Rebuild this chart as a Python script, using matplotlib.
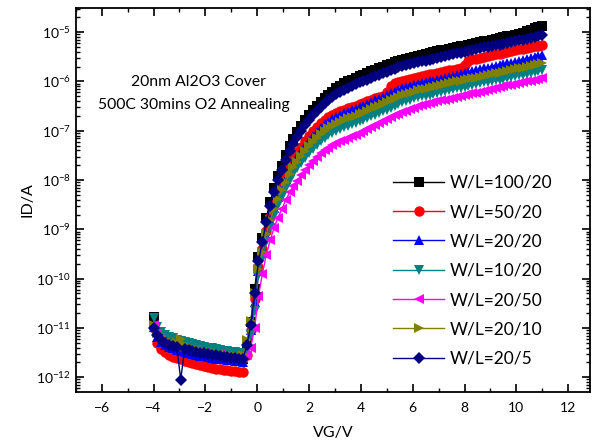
import numpy as np
import matplotlib
matplotlib.use("Agg")
import matplotlib.pyplot as plt
from matplotlib.ticker import LogLocator, MultipleLocator, NullFormatter

plt.rcParams['font.family'] = ['Lato', 'DejaVu Sans']
plt.rcParams['mathtext.fontset'] = 'custom'
plt.rcParams['mathtext.rm'] = 'Lato'

# gate sweep -4 V .. 11 V, 0.15 V steps
vg = np.round(np.linspace(-4.0, 11.0, 101), 2)

# log10(ID/A) for each device, one value per gate step
log_id_100_20 = [
    -10.78, -11.08, -11.20, -11.27, -11.31, -11.35, -11.38, -11.40, -11.42, -11.44,
    -11.46, -11.48, -11.50, -11.52, -11.53, -11.55, -11.56, -11.57, -11.58, -11.59,
    -11.60, -11.61, -11.62, -11.63, -11.30, -10.88, -10.22, -9.57, -9.17, -8.77,
    -8.44, -8.16, -7.92, -7.72, -7.49, -7.31, -7.16, -7.03, -6.91, -6.79,
    -6.68, -6.58, -6.49, -6.41, -6.33, -6.27, -6.21, -6.14, -6.09, -6.04,
    -6.00, -5.96, -5.93, -5.89, -5.86, -5.83, -5.79, -5.76, -5.73, -5.70,
    -5.67, -5.64, -5.61, -5.58, -5.56, -5.54, -5.52, -5.50, -5.48, -5.46,
    -5.45, -5.43, -5.41, -5.39, -5.37, -5.36, -5.34, -5.32, -5.30, -5.29,
    -5.27, -5.25, -5.23, -5.22, -5.20, -5.18, -5.17, -5.15, -5.13, -5.12,
    -5.10, -5.08, -5.07, -5.05, -5.03, -5.01, -4.98, -4.95, -4.92, -4.90,
    -4.87]
log_id_50_20 = [
    -11.00, -11.30, -11.42, -11.49, -11.54, -11.58, -11.61, -11.64, -11.67, -11.69,
    -11.71, -11.73, -11.75, -11.77, -11.79, -11.81, -11.83, -11.84, -11.85, -11.86,
    -11.87, -11.88, -11.89, -11.90, -11.55, -11.05, -10.42, -9.77, -9.40, -9.03,
    -8.74, -8.48, -8.26, -8.07, -7.87, -7.70, -7.56, -7.44, -7.32, -7.21,
    -7.10, -7.00, -6.92, -6.85, -6.78, -6.73, -6.68, -6.64, -6.60, -6.57,
    -6.54, -6.51, -6.49, -6.45, -6.43, -6.40, -6.37, -6.34, -6.32, -6.29,
    -6.22, -6.09, -6.04, -6.01, -5.98, -5.96, -5.94, -5.92, -5.90, -5.88,
    -5.87, -5.85, -5.84, -5.82, -5.80, -5.79, -5.77, -5.76, -5.74, -5.73,
    -5.66, -5.58, -5.55, -5.54, -5.52, -5.50, -5.49, -5.47, -5.45, -5.44,
    -5.42, -5.40, -5.39, -5.37, -5.35, -5.34, -5.32, -5.30, -5.28, -5.27,
    -5.25]
log_id_20_20 = [
    -10.98, -11.18, -11.28, -11.34, -11.38, -11.41, -11.44, -11.46, -11.48, -11.50,
    -11.52, -11.54, -11.56, -11.57, -11.59, -11.60, -11.62, -11.63, -11.64, -11.65,
    -11.66, -11.67, -11.68, -11.69, -11.45, -11.05, -10.48, -9.85, -9.48, -9.11,
    -8.82, -8.56, -8.34, -8.16, -7.97, -7.80, -7.66, -7.54, -7.42, -7.31,
    -7.20, -7.10, -7.02, -6.94, -6.87, -6.82, -6.76, -6.72, -6.68, -6.64,
    -6.61, -6.58, -6.55, -6.52, -6.49, -6.46, -6.42, -6.38, -6.35, -6.31,
    -6.28, -6.24, -6.21, -6.17, -6.14, -6.12, -6.10, -6.07, -6.05, -6.03,
    -6.02, -6.00, -5.98, -5.96, -5.94, -5.93, -5.91, -5.89, -5.87, -5.85,
    -5.83, -5.81, -5.79, -5.77, -5.75, -5.73, -5.72, -5.70, -5.68, -5.67,
    -5.65, -5.63, -5.62, -5.60, -5.58, -5.57, -5.55, -5.53, -5.51, -5.49,
    -5.47]
log_id_10_20 = [
    -10.80, -10.98, -11.08, -11.14, -11.18, -11.21, -11.24, -11.26, -11.28, -11.30,
    -11.32, -11.34, -11.36, -11.38, -11.40, -11.41, -11.43, -11.44, -11.46, -11.47,
    -11.48, -11.49, -11.50, -11.51, -11.45, -11.15, -10.65, -9.95, -9.60, -9.25,
    -8.97, -8.72, -8.51, -8.34, -8.16, -8.00, -7.87, -7.76, -7.65, -7.55,
    -7.45, -7.36, -7.28, -7.21, -7.14, -7.09, -7.04, -7.00, -6.96, -6.93,
    -6.90, -6.87, -6.84, -6.81, -6.78, -6.75, -6.71, -6.67, -6.64, -6.60,
    -6.57, -6.53, -6.49, -6.45, -6.42, -6.39, -6.37, -6.34, -6.32, -6.30,
    -6.29, -6.27, -6.25, -6.23, -6.21, -6.20, -6.18, -6.16, -6.14, -6.13,
    -6.11, -6.09, -6.07, -6.06, -6.04, -6.02, -6.01, -5.99, -5.97, -5.96,
    -5.94, -5.92, -5.91, -5.89, -5.87, -5.86, -5.84, -5.82, -5.80, -5.79,
    -5.77]
log_id_20_50 = [
    -10.95, -11.12, -11.22, -11.28, -11.32, -11.35, -11.38, -11.40, -11.42, -11.44,
    -11.46, -11.48, -11.49, -11.51, -11.52, -11.53, -11.54, -11.55, -11.56, -11.57,
    -11.58, -11.59, -11.60, -11.60, -11.55, -11.40, -11.00, -10.35, -9.90, -9.52,
    -9.22, -8.97, -8.76, -8.59, -8.41, -8.25, -8.12, -8.01, -7.90, -7.80,
    -7.70, -7.61, -7.53, -7.46, -7.39, -7.34, -7.29, -7.25, -7.21, -7.18,
    -7.14, -7.11, -7.08, -7.04, -7.01, -6.97, -6.93, -6.89, -6.85, -6.81,
    -6.77, -6.73, -6.69, -6.65, -6.62, -6.59, -6.56, -6.53, -6.50, -6.47,
    -6.46, -6.44, -6.42, -6.40, -6.38, -6.37, -6.35, -6.33, -6.31, -6.30,
    -6.28, -6.26, -6.24, -6.23, -6.21, -6.19, -6.17, -6.15, -6.13, -6.12,
    -6.10, -6.08, -6.07, -6.05, -6.03, -6.02, -6.00, -5.98, -5.96, -5.95,
    -5.93]
log_id_20_10 = [
    -10.95, -11.10, -11.18, -11.24, -11.28, -11.31, -11.30, -11.22, -11.36, -11.38,
    -11.40, -11.42, -11.44, -11.46, -11.48, -11.50, -11.51, -11.53, -11.54, -11.55,
    -11.56, -11.57, -11.58, -11.55, -11.25, -10.85, -10.30, -9.80, -9.45, -9.10,
    -8.82, -8.58, -8.38, -8.21, -8.03, -7.87, -7.74, -7.63, -7.52, -7.41,
    -7.31, -7.22, -7.14, -7.07, -7.00, -6.95, -6.90, -6.86, -6.82, -6.79,
    -6.75, -6.72, -6.70, -6.66, -6.63, -6.60, -6.56, -6.52, -6.49, -6.45,
    -6.42, -6.38, -6.35, -6.31, -6.28, -6.26, -6.23, -6.21, -6.18, -6.16,
    -6.15, -6.13, -6.11, -6.09, -6.07, -6.06, -6.04, -6.02, -6.00, -5.99,
    -5.97, -5.95, -5.93, -5.92, -5.90, -5.88, -5.87, -5.85, -5.83, -5.82,
    -5.80, -5.78, -5.77, -5.75, -5.73, -5.72, -5.70, -5.68, -5.66, -5.65,
    -5.63]
log_id_20_5 = [
    -11.00, -11.15, -11.25, -11.30, -11.34, -11.37, -11.39, -12.05, -11.42, -11.44,
    -11.46, -11.48, -11.50, -11.51, -11.53, -11.54, -11.55, -11.57, -11.58, -11.59,
    -11.60, -11.61, -11.62, -11.63, -11.35, -10.95, -10.30, -9.65, -9.25, -8.85,
    -8.52, -8.24, -8.00, -7.80, -7.59, -7.41, -7.26, -7.13, -7.01, -6.89,
    -6.78, -6.68, -6.59, -6.51, -6.43, -6.37, -6.31, -6.26, -6.21, -6.17,
    -6.13, -6.09, -6.06, -6.02, -5.99, -5.96, -5.92, -5.89, -5.86, -5.83,
    -5.80, -5.77, -5.74, -5.71, -5.69, -5.67, -5.65, -5.63, -5.61, -5.59,
    -5.58, -5.56, -5.54, -5.52, -5.50, -5.49, -5.47, -5.45, -5.43, -5.42,
    -5.40, -5.38, -5.36, -5.35, -5.33, -5.31, -5.30, -5.28, -5.26, -5.25,
    -5.23, -5.21, -5.20, -5.18, -5.16, -5.15, -5.13, -5.11, -5.09, -5.08,
    -5.06]

labels = ['W/L=100/20', 'W/L=50/20', 'W/L=20/20', 'W/L=10/20',
          'W/L=20/50', 'W/L=20/10', 'W/L=20/5']
curves = [log_id_100_20, log_id_50_20, log_id_20_20, log_id_10_20,
          log_id_20_50, log_id_20_10, log_id_20_5]
colors = ['#000000', '#ff0000', '#0000ff', '#008080', '#ff00ff', '#808000', '#000080']
markers = ['s', 'o', '^', 'v', '<', '>', 'D']
msizes = [6.5, 7.5, 7.5, 7.5, 7.5, 7.5, 6.5]

x_ticks = [-6, -4, -2, 0, 2, 4, 6, 8, 10, 12]
y_ticks = [1e-12, 1e-11, 1e-10, 1e-9, 1e-8, 1e-7, 1e-6, 1e-5]

fig = plt.figure(figsize=(5.92, 4.47), dpi=100)
ax = fig.add_axes([0.128, 0.123, 0.869, 0.859])

for logid, lab, c, m, ms in zip(curves, labels, colors, markers, msizes):
    ax.plot(vg, np.power(10.0, logid), color=c, marker=m, markersize=ms,
            markeredgewidth=0, linewidth=1.0, label=lab)

ax.set_yscale('log')
ax.set_xlim(-7, 12.85)
ax.set_ylim(10 ** -12.3, 10 ** -4.51)
ax.set_xticks(x_ticks)
ax.xaxis.set_minor_locator(MultipleLocator(1))
ax.set_yticks(y_ticks)
ax.yaxis.set_minor_locator(LogLocator(base=10, subs=np.arange(2, 10), numticks=20))
ax.yaxis.set_minor_formatter(NullFormatter())
ax.tick_params(which='both', direction='in', top=True, right=True, labelsize=10)
ax.tick_params(which='major', length=6, width=1.2)
ax.tick_params(axis='x', which='major', pad=7)
ax.tick_params(which='minor', length=3, width=1.0)
for sp in ax.spines.values():
    sp.set_linewidth(1.3)

ax.set_xlabel('VG/V', fontsize=11.5, labelpad=9)
ax.set_ylabel('ID/A', fontsize=11.5, labelpad=1)

fig.text(198 / 592, 1 - 82 / 447, '20nm Al2O3 Cover', ha='center', va='center', fontsize=11.3)
fig.text(194 / 592, 1 - 105 / 447, '500C 30mins O2 Annealing', ha='center', va='center',
         fontsize=11.3)

ax.legend(loc='upper left', bbox_to_anchor=(0.617, 0.566), frameon=False,
          fontsize=12.5, handlelength=2.93, handletextpad=0.35, labelspacing=0.77,
          borderpad=0, borderaxespad=0)

fig.savefig('out.png', dpi=100)
